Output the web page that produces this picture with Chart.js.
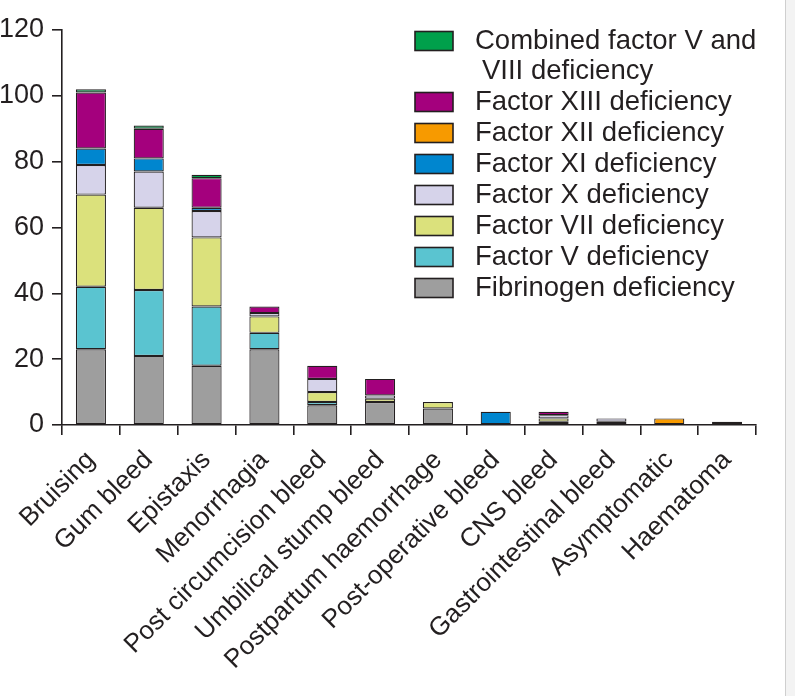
<!DOCTYPE html>
<html>
<head>
<meta charset="utf-8">
<script src="https://cdn.jsdelivr.net/npm/chart.js@4"></script>
<style>
  html, body { margin: 0; padding: 0; background: #f3f3f3; }
  #wrap { width: 785px; height: 696px; background: #fff; border-right: 1px solid #cfcfcf; }
</style>
</head>
<body>
<div id="wrap"><canvas id="myChart" width="785" height="696"></canvas></div>
<script>
// Categories (symptoms)
const categories = ['Bruising', 'Gum bleed', 'Epistaxis', 'Menorrhagia', 'Post circumcision bleed',
  'Umbilical stump bleed', 'Postpartum haemorrhage', 'Post-operative bleed', 'CNS bleed',
  'Gastrointestinal bleed', 'Asymptomatic', 'Haematoma'];

// Series values, stacked bottom to top
const fibrinogen = [23, 21, 18, 23, 6, 7, 5, 0, 1, 0, 0, 0];
const factorV    = [19, 20, 18, 5, 1, 0, 0, 0, 0, 0, 0, 0];
const factorVII  = [28, 25, 21, 5, 3, 1, 2, 0, 1, 1, 0, 0];
const factorX    = [9, 11, 8, 1, 4, 1, 0, 0, 1, 1, 0, 1];
const factorXI   = [5, 4, 1, 0, 0, 0, 0, 4, 0, 0, 0, 0];
const factorXII  = [0, 0, 0, 0, 0, 0, 0, 0, 0, 0, 2, 0];
const factorXIII = [17, 9, 9, 2, 4, 5, 0, 0, 1, 0, 0, 0];
const combinedVVIII = [1, 1, 1, 0, 0, 0, 0, 0, 0, 0, 0, 0];

const yTicks = [0, 20, 40, 60, 80, 100, 120];

const ink = '#231f20';
const FONT = '"Liberation Sans", Arial, sans-serif';

const series = [
  { label: 'Fibrinogen deficiency', data: fibrinogen, color: '#9e9e9e' },
  { label: 'Factor V deficiency', data: factorV, color: '#5ac4d0' },
  { label: 'Factor VII deficiency', data: factorVII, color: '#dbe17c' },
  { label: 'Factor X deficiency', data: factorX, color: '#d6d3ea' },
  { label: 'Factor XI deficiency', data: factorXI, color: '#0086cf' },
  { label: 'Factor XII deficiency', data: factorXII, color: '#f79a00' },
  { label: 'Factor XIII deficiency', data: factorXIII, color: '#a4007d' },
  { label: ['Combined factor V and', 'VIII deficiency'], data: combinedVVIII, color: '#00a04b' }
];

// Legend drawn by hand, top entry first
const legendPlugin = {
  id: 'sideLegend',
  afterDraw: (chart) => {
    const ctx = chart.ctx;
    const sets = chart.data.datasets.slice().reverse();
    const boxX = 415, boxW = 38, boxH = 19, textX = 475;
    let y = 41;
    ctx.save();
    ctx.font = '27.5px ' + FONT;
    ctx.textBaseline = 'middle';
    sets.forEach((ds) => {
      ctx.fillStyle = ds.backgroundColor;
      ctx.fillRect(boxX, y - boxH / 2, boxW, boxH);
      ctx.strokeStyle = ink;
      ctx.lineWidth = 1.6;
      ctx.strokeRect(boxX, y - boxH / 2, boxW, boxH);
      ctx.fillStyle = ink;
      const lines = Array.isArray(ds.label) ? ds.label : [ds.label];
      lines.forEach((t, j) => {
        ctx.fillText(t, textX + (j > 0 ? 7 : 0), y + j * 30);
      });
      y += 31 * lines.length - (lines.length > 1 ? 1 : 0);
    });
    ctx.restore();
  }
};

const ctx = document.getElementById('myChart').getContext('2d');
const chart = new Chart(ctx, {
  type: 'bar',
  data: {
    labels: categories,
    datasets: series.map(s => ({
      label: s.label,
      data: s.data.map(v => v === 0 ? null : v),
      backgroundColor: s.color,
      borderColor: ink,
      borderWidth: 1.2,
      borderSkipped: false,
      barPercentage: 0.52,
      categoryPercentage: 1
    }))
  },
  options: {
    responsive: false,
    animation: false,
    layout: { padding: { top: 30, right: 29, left: 0, bottom: 0 } },
    plugins: {
      legend: { display: false },
      tooltip: { enabled: false }
    },
    scales: {
      x: {
        stacked: true,
        afterFit: (axis) => { axis.height = 271; axis.paddingLeft = 0; axis.paddingRight = 0; },
        grid: { display: true, drawOnChartArea: false, drawTicks: true, tickLength: 10, color: ink, lineWidth: 1.6, offset: true },
        border: { display: true, color: ink, width: 1.6 },
        ticks: {
          autoSkip: false,
          maxRotation: 45,
          minRotation: 45,
          color: ink,
          padding: 10,
          font: { family: FONT, size: 26 }
        }
      },
      y: {
        stacked: true,
        min: 0,
        max: 120,
        afterBuildTicks: (axis) => { axis.ticks = yTicks.map(v => ({ value: v })); },
        afterFit: (axis) => { axis.width = 62; axis.paddingTop = 0; axis.paddingBottom = 0; },
        grid: { display: true, drawOnChartArea: false, drawTicks: true, tickLength: 10, color: ink, lineWidth: 1.6 },
        border: { display: true, color: ink, width: 1.6 },
        ticks: {
          color: ink,
          padding: 8,
          font: { family: FONT, size: 27 }
        }
      }
    }
  },
  plugins: [legendPlugin]
});
</script>
</body>
</html>
